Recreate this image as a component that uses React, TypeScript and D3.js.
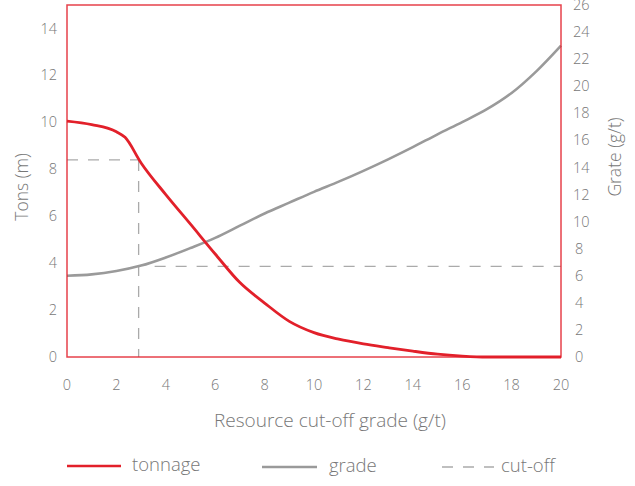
import React from 'react';
import * as d3 from 'd3';

// cut-off grade (g/t) on x
const gradeX = [0, 1, 2, 3, 4, 5, 6, 7, 8, 9, 10, 11, 12, 13, 14, 15, 16, 17, 18, 19, 20];
const gradeY = [6.0, 6.1, 6.35, 6.75, 7.35, 8.05, 8.8, 9.7, 10.6, 11.4, 12.2, 12.95, 13.75, 14.6, 15.5, 16.45, 17.35, 18.3, 19.5, 21.1, 23.0];

const tonX = [0, 1, 2, 2.35, 3, 4, 5, 6, 7, 8, 9, 10, 11, 12, 13, 14, 15, 16, 17, 18, 20];
const tonY = [10.05, 9.9, 9.6, 9.36, 8.27, 6.92, 5.66, 4.39, 3.17, 2.3, 1.52, 1.04, 0.76, 0.56, 0.4, 0.25, 0.12, 0.04, 0, 0, 0];

const cutoffGrade = 2.9;
const cutoffTons = 8.4;
const cutoffAvg = 6.7;

const xTicks = [0, 2, 4, 6, 8, 10, 12, 14, 16, 18, 20];
const leftTicks = [0, 2, 4, 6, 8, 10, 12, 14];
const rightTicks = [0, 2, 4, 6, 8, 10, 12, 14, 16, 18, 20, 22, 24, 26];

const RED = '#e2202a';
const GRAY = '#9a9a9a';
const TEXT = '#777777';
const FONT = '"Open Sans", Roboto, sans-serif';

export default function App() {
  const width = 635;
  const height = 486;
  const m = { left: 67, right: 561, top: 5, bottom: 357 };

  const x = d3.scaleLinear().domain([0, 20]).range([m.left, m.right]);
  const yL = d3.scaleLinear().domain([0, 15]).range([m.bottom, m.top]);
  const yR = d3.scaleLinear().domain([0, 26]).range([m.bottom, m.top]);

  const tonLine = d3.line<number>()
    .x((d, i) => x(tonX[i]))
    .y(d => yL(d))
    .curve(d3.curveMonotoneX);

  const gradeLine = d3.line<number>()
    .x((d, i) => x(gradeX[i]))
    .y(d => yR(d))
    .curve(d3.curveCatmullRom.alpha(0.5));

  const dash = '11,10';

  return (
    <div style={{ position: 'fixed', left: 0, top: 0 }}>
      <svg width={width} height={height} style={{ display: 'block', fontFamily: FONT, fontWeight: 300 }}>
        <rect width={width} height={height} fill="#fff" />

        {/* cut-off guides */}
        <g stroke="#aaaaaa" strokeWidth={1.3} strokeDasharray={dash} fill="none">
          <line x1={m.left} x2={x(cutoffGrade)} y1={yL(cutoffTons)} y2={yL(cutoffTons)} />
          <line x1={x(cutoffGrade)} x2={x(cutoffGrade)} y1={yL(cutoffTons)} y2={m.bottom} />
          <line x1={x(cutoffGrade) + 16} x2={m.right} y1={yR(cutoffAvg)} y2={yR(cutoffAvg)} />
        </g>

        <path d={gradeLine(gradeY) || ''} fill="none" stroke={GRAY} strokeWidth={2.6} />
        <path d={tonLine(tonY) || ''} fill="none" stroke={RED} strokeWidth={2.8} />

        {/* frame */}
        <rect x={m.left} y={m.top} width={m.right - m.left} height={m.bottom - m.top}
          fill="none" stroke={RED} strokeWidth={1.5} opacity={0.85} />

        {/* left ticks */}
        <g fill={TEXT} fontSize={14.5} textAnchor="end">
          {leftTicks.map(t => (
            <text key={t} x={57} y={yL(t)} dy="0.35em">{t}</text>
          ))}
        </g>
        {/* right ticks */}
        <g fill={TEXT} fontSize={14.5} textAnchor="start">
          {rightTicks.map(t => (
            <text key={t} x={t < 10 ? 575 : 573} y={yR(t)} dy="0.35em">{t}</text>
          ))}
        </g>
        {/* x ticks */}
        <g fill={TEXT} fontSize={14.5} textAnchor="middle">
          {xTicks.map(t => (
            <text key={t} x={x(t)} y={385} dy="0.35em">{t}</text>
          ))}
        </g>

        <text x={330} y={427} fontSize={19} fill={TEXT} textAnchor="middle">
          Resource cut-off grade (g/t)
        </text>
        <text transform={`translate(28,187) rotate(-90)`} fontSize={17.5} fill={TEXT} textAnchor="middle">
          Tons (m)
        </text>
        <text transform={`translate(621,157) rotate(-90)`} fontSize={17.5} fill={TEXT} textAnchor="middle">
          Grate (g/t)
        </text>

        {/* legend */}
        <g fontSize={18.5} fill={TEXT}>
          <line x1={67} x2={121} y1={466} y2={466} stroke={RED} strokeWidth={2.5} />
          <text x={132} y={471}>tonnage</text>
          <line x1={262} x2={317} y1={467} y2={467} stroke={GRAY} strokeWidth={2.5} />
          <text x={329} y={472}>grade</text>
          <line x1={442} x2={494} y1={467} y2={467} stroke="#aaaaaa" strokeWidth={1.3} strokeDasharray="11,10" />
          <text x={501} y={472}>cut-off</text>
        </g>
      </svg>
    </div>
  );
}
